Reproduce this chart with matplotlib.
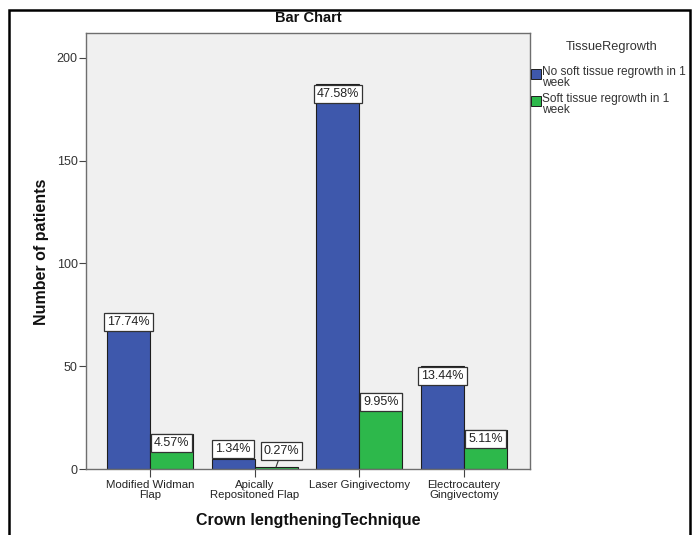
import matplotlib
matplotlib.use("Agg")
import matplotlib.pyplot as plt
from matplotlib.patches import Rectangle
import numpy as np

plt.rcParams['font.family'] = ['Liberation Sans', 'DejaVu Sans']

# Patient counts per technique and tissue regrowth outcome
techniques = ["Modified Widman\nFlap", "Apically\nRepositoned Flap",
              "Laser Gingivectomy", "Electrocautery\nGingivectomy"]
no_regrowth = [76, 5, 187, 50]
regrowth = [17, 1, 37, 19]
no_regrowth_pct = ["17.74%", "1.34%", "47.58%", "13.44%"]
regrowth_pct = ["4.57%", "0.27%", "9.95%", "5.11%"]
series_names = ["No soft tissue regrowth in 1\nweek", "Soft tissue regrowth in 1\nweek"]
yticks = [0, 50, 100, 150, 200]

blue = "#3E58AC"
green = "#2DB84B"
edge = "#1E1E1E"

W, H = 694, 535
fig = plt.figure(figsize=(W / 100, H / 100), dpi=100)

# outer frame around the whole chart
fig.patches.append(Rectangle((9 / W, -0.05), (690 - 9) / W, 1.05 - 10 / H,
                             transform=fig.transFigure, fill=False,
                             edgecolor="black", linewidth=1.8, zorder=0))

ax = fig.add_axes([86 / W, (H - 469) / H, (530 - 86) / W, (469 - 33) / H])
ax.set_facecolor("#F0F0F0")
for s in ax.spines.values():
    s.set_color("#6E6E6E")
    s.set_linewidth(1.0)

x = np.arange(len(techniques))
bw = 0.41
b1 = ax.bar(x - bw / 2, no_regrowth, bw, color=blue, edgecolor=edge, linewidth=0.8, zorder=2)
b2 = ax.bar(x + bw / 2, regrowth, bw, color=green, edgecolor=edge, linewidth=0.8, zorder=2)

ax.set_xlim(-0.61, 3.63)
ax.set_ylim(0, 212)
ax.set_yticks(yticks)
ax.set_xticks(x)
ax.set_xticklabels(techniques, fontsize=8.2, color="#222222", linespacing=0.95)
ax.tick_params(axis="y", labelsize=9, labelcolor="#333333", length=5, color="#444444", pad=1)
ax.tick_params(axis="x", length=6, color="#444444", pad=2)

box = dict(boxstyle="square,pad=0.24", facecolor="white", edgecolor="#333333", linewidth=0.9)


def label(bar, text, small, dx=0, dy=2, leader=False):
    cx = bar.get_x() + bar.get_width() / 2
    top = bar.get_height()
    if small:
        kw = dict(arrowprops=dict(arrowstyle="-", color="#333333", lw=0.8,
                                  shrinkA=0, shrinkB=0)) if leader else {}
        ax.annotate(text, (cx, top), xytext=(dx, dy), textcoords="offset points",
                    ha="center", va="bottom", fontsize=9, color="#222222",
                    bbox=box, zorder=4, **kw)
    else:
        ax.annotate(text, (cx, top), xytext=(0, -2.4), textcoords="offset points",
                    ha="center", va="top", fontsize=9, color="#222222",
                    bbox=box, zorder=4)


for bar, txt, v in zip(b1, no_regrowth_pct, no_regrowth):
    label(bar, txt, v < 10, dy=3)
for bar, txt, v in zip(b2, regrowth_pct, regrowth):
    if v < 5:
        label(bar, txt, True, dx=4, dy=7, leader=True)
    else:
        label(bar, txt, v < 10)

fig.text(308 / W, 1 - 18 / H, "Bar Chart", ha="center", va="center",
         fontsize=10.5, fontweight="bold", color="#111111")
fig.text(42 / W, (H - 252) / H, "Number of patients", rotation=90, ha="center",
         va="center", fontsize=11.5, fontweight="bold", color="#111111")
fig.text(308 / W, 1 - 521 / H, "Crown lengtheningTechnique", ha="center",
         va="center", fontsize=11.5, fontweight="bold", color="#111111")

# legend
fig.text(612 / W, 1 - 47 / H, "TissueRegrowth", ha="center", va="center",
         fontsize=9.2, color="#333333")
for i, (name, col) in enumerate(zip(series_names, [blue, green])):
    yc = 74 + i * 27
    fig.patches.append(Rectangle((531 / W, 1 - (yc + 5) / H), 10 / W, 10 / H,
                                 transform=fig.transFigure, facecolor=col,
                                 edgecolor=edge, linewidth=0.7))
    fig.text(542 / W, 1 - (yc - 8) / H, name, ha="left", va="top",
             fontsize=8.6, color="#333333", linespacing=0.85)

fig.savefig("out.png", dpi=100)
